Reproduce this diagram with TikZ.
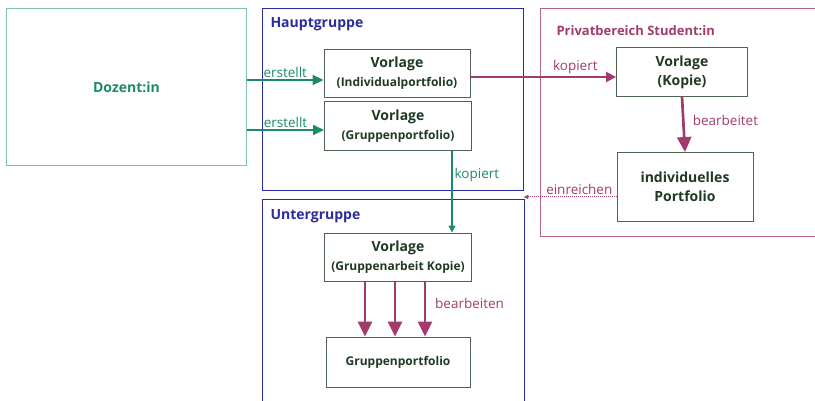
\documentclass[tikz,border=0pt]{standalone}
\usepackage{fontspec}
\setmainfont{Open Sans}
\usetikzlibrary{arrows.meta, positioning}
\definecolor{gruen}{HTML}{1B8A6B}
\definecolor{pflaume}{HTML}{A23B6B}
\definecolor{blau}{HTML}{2B2BA0}
\definecolor{dunkel}{HTML}{1E3A22}
\definecolor{rahmen}{HTML}{50644F}
\newcommand{\gross}{\fontsize{14}{19}\selectfont}
\newcommand{\klein}{\fontsize{12}{15}\selectfont}
\tikzstyle{block} = [draw=rahmen, line width=0.9pt, fill=white, rectangle, align=center, text=dunkel, font=\gross\bfseries]
\tikzstyle{gruppe} = [draw, rectangle, anchor=north west, inner sep=0pt]
\tikzstyle{titel} = [anchor=west, font=\gross\bfseries]
\tikzstyle{beschr} = [font=\fontsize{13.5}{16}\selectfont, inner sep=2pt]

\begin{document}
\begin{tikzpicture}[x=1pt, y=-1pt]
    \clip (0,0) rectangle (815,401);
    % Bereiche
    \node[gruppe, draw=gruen!55, line width=1pt, minimum width=240pt, minimum height=157pt,
          text=gruen, font=\gross\bfseries] (dozent) at (6,8) {Dozent:in};
    \node[gruppe, draw=blau, minimum width=261pt, minimum height=182pt] (haupt) at (262,8) {};
    \node[gruppe, draw=blau, minimum width=262pt, minimum height=215pt] (unter) at (262,199) {};
    \node[gruppe, draw=pflaume!80, minimum width=285pt, minimum height=228pt] (privat) at (540,8) {};
    \node[titel, text=blau] (hauptlabel) at (267,24) {Hauptgruppe};
    \node[titel, text=blau] (unterlabel) at (267,216) {Untergruppe};
    \node[titel, text=pflaume, font=\fontsize{13}{16}\selectfont\bfseries] (privatlabel) at (553,31) {Privatbereich Student:in};
    % Vorlagen
    \node[block, minimum width=146pt, minimum height=48pt] (indiv) at (397,73)
        {Vorlage\\{\klein(Individualportfolio)}};
    \node[block, minimum width=147pt, minimum height=49pt] (grupp) at (398,126)
        {Vorlage\\{\klein(Gruppenportfolio)}};
    \node[block, minimum width=147pt, minimum height=48pt] (gkopie) at (398,257)
        {Vorlage\\{\klein(Gruppenarbeit Kopie)}};
    \node[block, minimum width=144pt, minimum height=50pt, font=\klein\bfseries] (gport) at (398,362)
        {Gruppenportfolio};
    \node[block, minimum width=131pt, minimum height=49pt] (kopie) at (682,72)
        {Vorlage\\(Kopie)};
    \node[block, minimum width=136pt, minimum height=69pt] (indport) at (685,187)
        {individuelles\\Portfolio};
    % Pfeile
    \coordinate (e1) at ([yshift=-7pt]indiv.west);
    \coordinate (e2) at ([yshift=-4pt]grupp.west);
    \draw[gruen, line width=1.5pt, -{Triangle[length=11pt,width=10pt]}] (dozent.east |- e1) -- (e1)
        node[beschr, midway, above, text=gruen] (erst1) {erstellt};
    \draw[gruen, line width=1.5pt, -{Triangle[length=11pt,width=10pt]}] (dozent.east |- e2) -- (e2)
        node[beschr, midway, above, text=gruen] (erst2) {erstellt};
    \coordinate (k1) at ([yshift=-4pt]indiv.east);
    \draw[pflaume, line width=1.8pt, -{Triangle[length=10pt,width=10pt]}] (k1) -- (kopie.west |- k1)
        node[beschr, pos=0.72, above, text=pflaume] (kop1) {kopiert};
    \coordinate (k2) at ([xshift=54pt]grupp.south);
    \draw[gruen, line width=1.2pt, -{Triangle[length=7pt,width=7pt]}] (k2) -- (gkopie.north -| k2)
        node[beschr, pos=0.3, right, text=gruen] (kop2) {kopiert};
    \draw[pflaume, line width=2.7pt, -{Triangle[length=15pt,width=14pt]}] (kopie.south) -- (indport.north)
        node[beschr, midway, right=6pt, yshift=4pt, text=pflaume] (bearb) {bearbeitet};
    \coordinate (ein) at ([yshift=-10pt]indport.west);
    \draw[pflaume, line width=1pt, densely dotted, -{Latex[length=5pt,width=5pt]}] (ein) -- (haupt.east |- ein)
        node[beschr, pos=0.4, above, text=pflaume] (einr) {einreichen};
    \foreach \dx in {-33,-3,27}
        \draw[pflaume, line width=2.7pt, -{Triangle[length=15pt,width=14pt]}]
            ([xshift=\dx pt]gkopie.south) -- ([xshift=\dx pt]gport.north);
    \node[beschr, text=pflaume, anchor=west] (bearb2) at (433,303) {bearbeiten};
\end{tikzpicture}
\end{document}
